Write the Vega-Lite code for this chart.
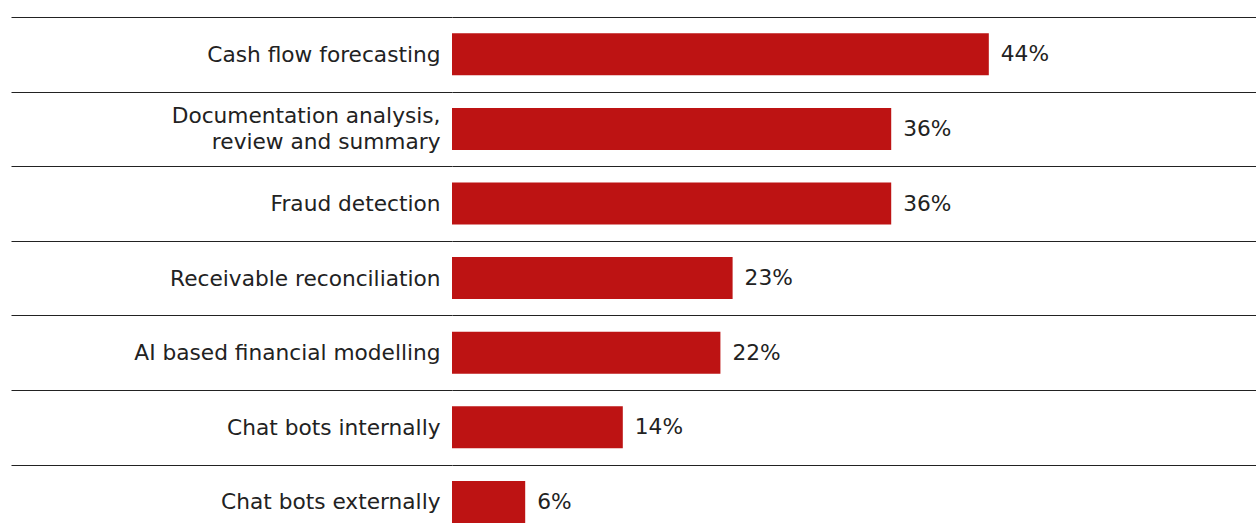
{
  "$schema": "https://vega.github.io/schema/vega-lite/v6.json",
  "autosize": {"type": "none"},
  "padding": {"left": 452, "top": 17, "right": 0, "bottom": 0},
  "width": 804,
  "height": 515,
  "background": "white",
  "config": {"view": {"stroke": null}, "font": "DejaVu Sans"},
  "data": {
    "values": [
      {"item": "Cash flow forecasting", "value": 0.44},
      {"item": "Documentation analysis,|review and summary", "value": 0.36},
      {"item": "Fraud detection", "value": 0.36},
      {"item": "Receivable reconciliation", "value": 0.23},
      {"item": "AI based financial modelling", "value": 0.22},
      {"item": "Chat bots internally", "value": 0.14},
      {"item": "Chat bots externally", "value": 0.06}
    ]
  },
  "encoding": {
    "y": {
      "field": "item",
      "type": "nominal",
      "sort": null,
      "scale": {"range": [0, 522.2], "paddingInner": 0, "paddingOuter": 0},
      "axis": {
        "title": null,
        "domain": false,
        "tickBand": "extent",
        "ticks": true,
        "tickSize": 441,
        "tickColor": "#222222",
        "tickWidth": 1,
        "grid": true,
        "gridColor": "#222222",
        "gridWidth": 1,
        "labelPadding": -429,
        "labelFontSize": 21.7,
        "labelColor": "#222222",
        "labelFont": "DejaVu Sans",
        "labelLimit": 0,
        "labelLineHeight": 26,
        "labelOffset": {"condition": {"test": "datum.value === 'Documentation analysis,|review and summary'", "value": -13}, "value": 0},
        "labelExpr": "split(datum.label, '|')"
      }
    }
  },
  "layer": [
    {
      "mark": {"type": "bar", "color": "#BD1313", "height": 42},
      "encoding": {
        "x": {"field": "value", "type": "quantitative", "scale": {"domain": [0, 0.659], "nice": false}, "axis": null}
      }
    },
    {
      "mark": {"type": "text", "align": "left", "dx": 12, "fontSize": 21.7, "color": "#222222", "font": "DejaVu Sans"},
      "encoding": {
        "x": {"field": "value", "type": "quantitative"},
        "text": {"field": "value", "type": "quantitative", "format": ".0%"}
      }
    }
  ]
}
